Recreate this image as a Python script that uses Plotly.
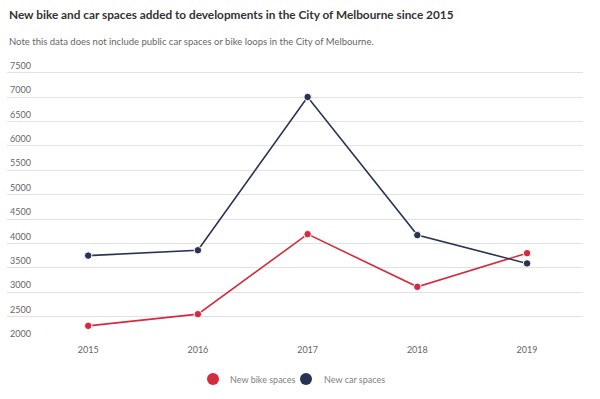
import plotly.graph_objects as go

years = ["2015", "2016", "2017", "2018", "2019"]
bike_spaces = [2310, 2550, 4190, 3110, 3800]
car_spaces = [3750, 3860, 7000, 4170, 3590]
y_ticks = [2000, 2500, 3000, 3500, 4000, 4500, 5000, 5500, 6000, 6500, 7000, 7500]
series_names = ["New bike spaces", "New car spaces"]

RED = "#d62b3f"
NAVY = "#283253"
FONT = "Lato"

W, H = 600, 399
ML, MR, MT, MB = 7, 17, 58, 58
PW, PH = W - ML - MR, H - MT - MB


def px_x(px):
    return (px - ML) / PW


def px_y(py):
    return (H - MB - py) / PH


xpos = list(range(len(years)))

fig = go.Figure()
for vals, name, col in [(bike_spaces, series_names[0], RED), (car_spaces, series_names[1], NAVY)]:
    fig.add_trace(go.Scatter(
        x=xpos, y=vals, name=name, mode="lines+markers", showlegend=False,
        line=dict(color=col, width=1.6),
        marker=dict(color=col, size=7.5, line=dict(color="white", width=1)),
    ))

# manual legend (circle + label)
legend_circle_px = [213, 306]
legend_text_px = [228, 322]
legend_y_px = 379
shapes = []
annotations = [
    dict(text="New bike and car spaces added to developments in the City of Melbourne since 2015",
         xref="paper", yref="paper", x=0, y=1, xshift=0, yshift=44,
         xanchor="left", yanchor="middle", showarrow=False,
         font=dict(family=FONT, size=11.8, color="#333333", weight=700)),
    dict(text="Note this data does not include public car spaces or bike loops in the City of Melbourne.",
         xref="paper", yref="paper", x=0, y=1, xshift=0, yshift=17,
         xanchor="left", yanchor="middle", showarrow=False,
         font=dict(family=FONT, size=9.5, color="#666666")),
]
for name, col, cx, tx in zip(series_names, [RED, NAVY], legend_circle_px, legend_text_px):
    shapes.append(dict(type="circle", xref="paper", yref="paper",
                       xsizemode="pixel", ysizemode="pixel",
                       xanchor=px_x(cx), yanchor=px_y(legend_y_px),
                       x0=-6, x1=6, y0=-6, y1=6,
                       fillcolor=col, line=dict(width=0)))
    annotations.append(dict(text=name, xref="paper", yref="paper",
                            x=px_x(tx), y=px_y(legend_y_px),
                            xanchor="left", yanchor="middle", showarrow=False,
                            font=dict(family=FONT, size=9, color="#808080")))

fig.update_layout(
    width=W, height=H,
    margin=dict(l=ML, r=MR, t=MT, b=MB),
    paper_bgcolor="white", plot_bgcolor="white",
    font=dict(family=FONT, size=9, color="#666666"),
    showlegend=False,
    shapes=shapes,
    annotations=annotations,
)
fig.update_xaxes(
    range=[-0.74, 4.51], tickmode="array", tickvals=xpos, ticktext=years,
    showgrid=False, zeroline=False, showline=False, ticks="", automargin=False,
    ticklabelstandoff=2,
    tickfont=dict(size=9, color="#666666"),
)
fig.update_yaxes(
    range=[2000, 7800], tickmode="array", tickvals=y_ticks,
    ticktext=[str(v) for v in y_ticks], automargin=False,
    showgrid=True, gridcolor="#e2e2e2", gridwidth=1, zeroline=False,
    ticks="", ticklen=0,
    ticklabelposition="inside", ticklabelshift=-7, ticklabelstandoff=0,
    tickfont=dict(size=9, color="#666666"),
)

fig.write_html("out.html", config={"displayModeBar": False},
               post_script="document.body.style.margin='0';")
